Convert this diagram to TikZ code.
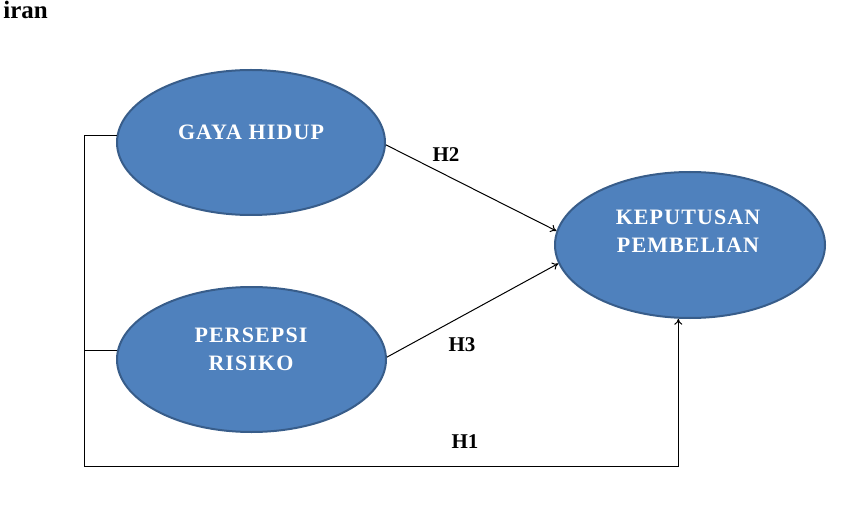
\documentclass[tikz,border=0pt]{standalone}
\usepackage{fontspec}
\setmainfont{Liberation Serif}
\newfontfamily\ellfont[LetterSpace=5]{Liberation Serif}
\usetikzlibrary{shapes.geometric,arrows.meta}
\definecolor{ellfill}{HTML}{4F81BD}
\definecolor{elldraw}{HTML}{385D8A}
\tikzset{
  varell/.style={ellipse, draw=elldraw, fill=ellfill, line width=2pt, inner sep=0pt},
  elltext/.style={text=white, align=center, inner sep=0pt, font=\ellfont\bfseries\fontsize{22}{28}\selectfont},
  hlabel/.style={text=black, inner sep=0pt, font=\bfseries\fontsize{21}{25}\selectfont},
  conn/.style={draw=black, line width=1pt},
  tip/.style={-{To[length=6pt,width=8pt]}}
}
\begin{document}
\begin{tikzpicture}[x=1pt,y=-1pt]
\useasboundingbox (0,0) rectangle (864,521);
% heading fragment
\node[anchor=base east, inner sep=0pt, font=\bfseries\fontsize{25}{28}\selectfont] (head) at (48,19) {iran};
% ellipses
\node[varell, minimum width=268pt, minimum height=145pt] (gaya) at (251,142.5) {};
\node[varell, minimum width=269pt, minimum height=145pt] (pers) at (251.5,359.5) {};
\node[varell, minimum width=270pt, minimum height=146pt] (kep) at (690,245) {};
% texts
\node[elltext] (gayat) at (251,132) {GAYA HIDUP};
\node[elltext] (perst) at (251,349.5) {PERSEPSI\\RISIKO};
\node[elltext] (kept) at (688,231.5) {KEPUTUSAN\\PEMBELIAN};
% connectors
\coordinate (bl) at (84,466);
\draw[conn] (pers.176) -- (pers.176 -| bl);
\draw[conn, tip] (gaya.177) -| (bl) -| (kep.261);
\draw[conn, tip] (gaya.-1) -- (kep.174);
\draw[conn, tip] (pers.1) -- (kep.188);
% labels
\node[hlabel] (h2) at (446,155) {H2};
\node[hlabel] (h3) at (462,345) {H3};
\node[hlabel] (h1) at (465,442) {H1};
\end{tikzpicture}
\end{document}
